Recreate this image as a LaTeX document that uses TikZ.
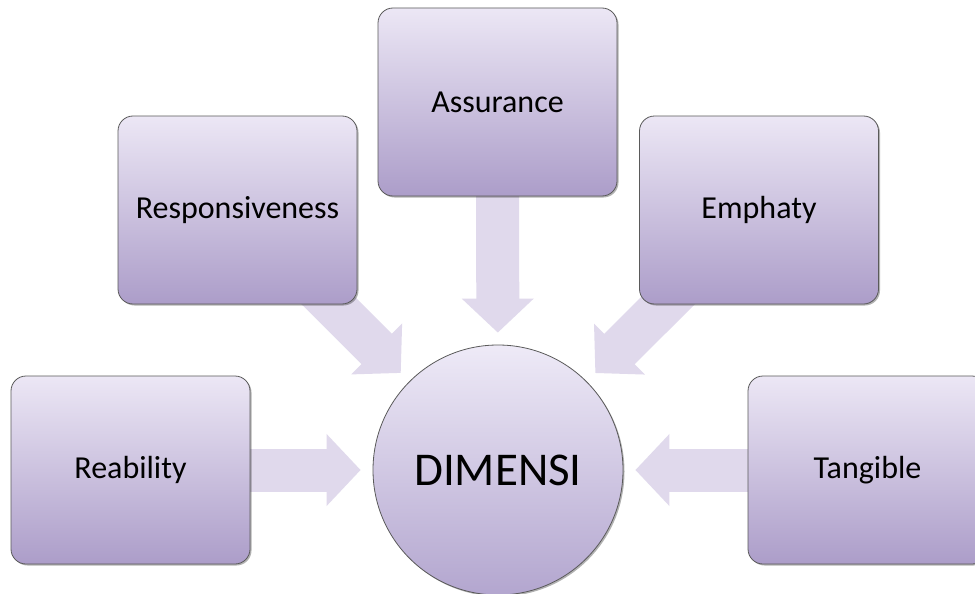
\documentclass[tikz,border=0pt]{standalone}
\usepackage{fontspec}
\setmainfont{Carlito}
\usetikzlibrary{arrows.meta,shadows}
\definecolor{boxtop}{HTML}{ECE7F5}
\definecolor{boxbot}{HTML}{AC9DC9}
\definecolor{circtop}{HTML}{EEEAF7}
\definecolor{circbot}{HTML}{B3A6CF}
\definecolor{edgegray}{HTML}{5A5A5A}
\definecolor{arrowfill}{HTML}{E0D9EC}
\pgfdeclarelayer{backdrop}
\pgfdeclarelayer{background}
\pgfsetlayers{backdrop,background,main}
\tikzset{
  dimbox/.style={rectangle, rounded corners=15pt, minimum width=239pt,
    minimum height=188pt, inner sep=0pt, top color=boxtop, bottom color=boxbot,
    draw=edgegray, line width=0.8pt,
    drop shadow={shadow xshift=1.5pt, shadow yshift=-1.5pt, opacity=0.3, fill=black},
    font=\fontsize{32}{38}\selectfont},
  hub/.style={circle, minimum size=250pt, inner sep=0pt, top color=circtop,
    bottom color=circbot, draw=edgegray, line width=0.8pt,
    drop shadow={shadow xshift=1.5pt, shadow yshift=-1.5pt, opacity=0.3, fill=black},
    font=\fontsize{47}{56}\selectfont},
  blockarrow/.style={draw=arrowfill, line width=43pt, shorten >=12pt,
    -{Triangle[length=34pt, width=70pt, fill=arrowfill]}}
}
\begin{document}
\begin{tikzpicture}[x=1pt, y=-1pt]
  \begin{pgfonlayer}{backdrop}
    \fill[white] (0,0) rectangle (975,594);
  \end{pgfonlayer}
  \useasboundingbox (0,0) rectangle (975,594);

  % centre and the five dimensions around it
  \node[hub] (dim) at (498,470) {DIMENSI};
  \node[dimbox] (assur) at (497.5,102) {Assurance};
  \node[dimbox] (resp)  at (237.5,210) {Responsiveness};
  \node[dimbox] (emph)  at (759,210)   {Emphaty};
  \node[dimbox] (reab)  at (130.5,470) {Reability};
  \node[dimbox] (tang)  at (867.5,470) {Tangible};

  % block arrows run behind the boxes into the centre
  \begin{pgfonlayer}{background}
    \draw[blockarrow] (assur.center) -- (dim);
    \draw[blockarrow] (resp.center)  -- (dim);
    \draw[blockarrow] (emph.center)  -- (dim);
    \draw[blockarrow] (reab.center)  -- (dim);
    \draw[blockarrow] (tang.center)  -- (dim);
  \end{pgfonlayer}
\end{tikzpicture}
\end{document}
